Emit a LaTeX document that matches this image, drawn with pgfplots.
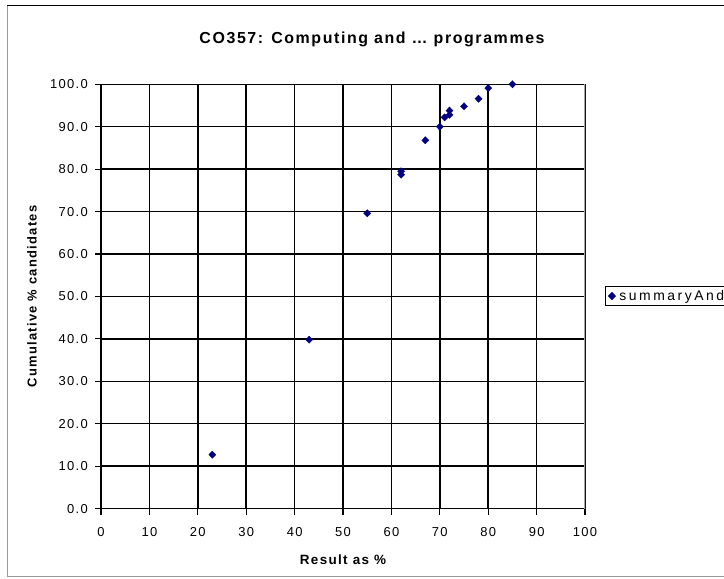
\documentclass[border=0pt]{standalone}
\usepackage{pgfplots}
\pgfplotsset{compat=1.18}
\usepackage{fontspec}
\setmainfont{Liberation Sans}[LetterSpace=10]
\definecolor{navy}{RGB}{0,0,128}
\begin{document}
\begin{tikzpicture}[x=1bp,y=1bp]
\begin{axis}[
  at={(101bp,70.4bp)}, anchor=south west,
  scale only axis, width=484bp, height=424.3bp,
  xmin=0, xmax=100, ymin=0, ymax=100,
  xtick={0,10,...,100}, ytick={0,10,...,100},
  grid=major, major grid style={black, line width=1.5bp},
  axis line style={black, line width=1.5bp},
  tick align=outside, tick pos=left, major tick length=6bp,
  tick style={black, line width=1.2bp},
  /pgf/number format/assume math mode=true,
  ticklabel style={font=\fontsize{13}{15}\selectfont, inner sep=0pt},
  xticklabel style={anchor=north},
  yticklabel style={anchor=east, /pgf/number format/fixed, /pgf/number format/fixed zerofill, /pgf/number format/precision=1},
  xticklabel shift=13bp, yticklabel shift=7bp,
  title={CO357: Computing and … programmes},
  title style={at={(axis description cs:0.56,1.0926)}, anchor=center, font=\bfseries\fontsize{16}{18}\selectfont},
  xlabel={Result as \%},
  xlabel style={at={(axis description cs:0.5,-0.1211)}, anchor=center, font=\bfseries\fontsize{13.5}{15}\selectfont},
  ylabel={Cumulative \% candidates},
  ylabel style={at={(axis description cs:-0.1426,0.5)}, anchor=center, font=\bfseries\fontsize{13}{15}\selectfont},
  legend style={at={(axis description cs:1.0413,0.501)}, anchor=west, draw=black, line width=0.8bp,
    font=\fontsize{14}{16}\selectfont\addfontfeature{LetterSpace=18}, inner xsep=3bp, inner ysep=2bp},
  legend image code/.code={\draw[#1] plot coordinates {(3bp,0bp)};},
]
\addplot[only marks, mark=diamond*, mark size=3.6bp, color=navy, mark options={xscale=1.3}] coordinates {
  (23,12.7) (43,39.8) (55,69.6) (62,79.5) (62,78.7) (67,86.8) (70,90.0)
  (71,92.2) (72,92.8) (72,93.8) (75,94.8) (78,96.6) (80,99.1) (85,100.0)
};
\addlegendentry{\hspace{2bp}summaryAnd}
\draw[gray!70, line width=1.5bp] (axis cs:100,0) -- (axis cs:100,100);
\end{axis}
\draw[black, line width=1bp] (7,573) -- (760,573);
\draw[gray!80, line width=1bp] (7,573) -- (7,2.5) -- (760,2.5);
\pgfresetboundingbox
\path[use as bounding box] (0,0) rectangle (724,579);
\end{tikzpicture}
\end{document}
